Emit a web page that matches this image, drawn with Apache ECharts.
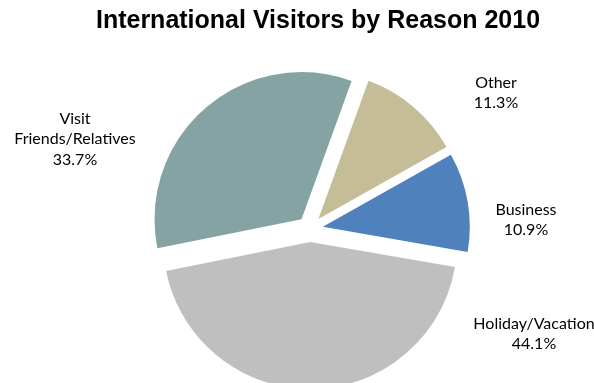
<!DOCTYPE html>
<html>
<head>
<meta charset="utf-8">
<script src="https://cdn.jsdelivr.net/npm/echarts@6/dist/echarts.min.js"></script>
<style>
  html, body { margin: 0; padding: 0; background: #fff; }
  #chart { width: 594px; height: 383px; }
</style>
</head>
<body>
<div id="chart"></div>
<script>
// Share of international visitors by reason of travel, 2010 (percent)
const categories = ['Business', 'Holiday/Vacation', 'Visit\nFriends/Relatives', 'Other'];
const shares = [10.9, 44.1, 33.7, 11.3];
const sliceColors = ['#4F81BD', '#BFBFBF', '#85A3A3', '#C4BD97'];

// Where each slice's label block is centred on the canvas
const labelSpots = [[526, 220], [534, 334], [75, 139], [496, 93]];

const chart = echarts.init(document.getElementById('chart'), null, { renderer: 'canvas' });

// Category name and percentage, placed beside each slice
const sliceLabels = categories.map((name, i) => ({
  type: 'text',
  x: labelSpots[i][0],
  y: labelSpots[i][1],
  silent: true,
  style: {
    text: name + '\n' + shares[i].toFixed(1) + '%',
    fontFamily: 'Lato, sans-serif',
    fontSize: 16,
    lineHeight: 20.5,
    fill: '#000000',
    align: 'center',
    verticalAlign: 'middle'
  }
}));

chart.setOption({
  animation: false,
  backgroundColor: '#ffffff',
  title: {
    text: 'International Visitors by Reason 2010',
    left: 313,
    textAlign: 'center',
    top: 4,
    textStyle: {
      fontFamily: 'Liberation Sans, Arial, sans-serif',
      fontWeight: 'bold',
      fontSize: 25,
      color: '#000000'
    }
  },
  graphic: sliceLabels,
  series: [{
    type: 'pie',
    center: [310, 229],
    radius: [0, 147],
    startAngle: 29.4,
    clockwise: true,
    selectedMode: 'multiple',
    selectedOffset: 13,
    avoidLabelOverlap: false,
    emphasis: { disabled: true },
    itemStyle: { borderWidth: 0 },
    label: { show: false },
    labelLine: { show: false },
    data: categories.map((name, i) => ({
      name: name,
      value: shares[i],
      selected: true,
      itemStyle: { color: sliceColors[i] }
    }))
  }]
});
</script>
</body>
</html>
